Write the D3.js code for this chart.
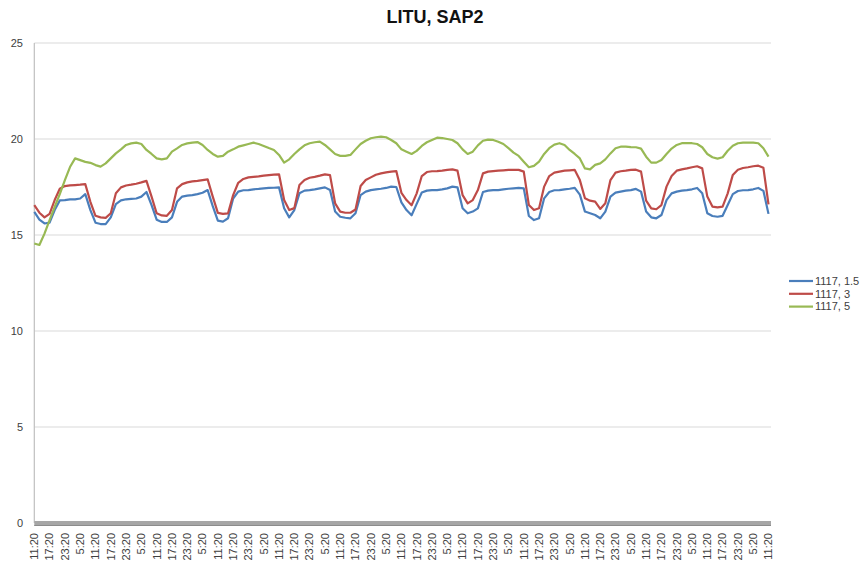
<!DOCTYPE html>
<html>
<head>
<meta charset="utf-8">
<script src="https://cdn.jsdelivr.net/npm/d3@7/dist/d3.min.js"></script>
<style>
  html, body { margin: 0; padding: 0; background: #fff; }
  svg { display: block; font-family: "Liberation Sans", Arial, sans-serif; }
</style>
</head>
<body>
<svg id="chart" width="862" height="566"></svg>
<script>
// ---- data (2-hour readings, starting 11:20) ----
const seriesNames = ["1117, 1.5", "1117, 3", "1117, 5"];
const seriesColors = ["#4a7ebb", "#be4b48", "#98b954"];

const s15 = [16.2,15.8,15.6,15.64,16.3,16.8,16.82,16.86,16.86,16.9,17.13,16.3,
  15.64,15.57,15.57,15.92,16.61,16.8,16.86,16.88,16.9,17.0,17.24,16.56,
  15.8,15.68,15.68,15.92,16.73,17.0,17.05,17.08,17.13,17.2,17.34,16.5,
  15.75,15.7,15.87,16.9,17.26,17.33,17.34,17.38,17.4,17.43,17.45,17.46,
  17.48,16.39,15.92,16.3,17.17,17.31,17.34,17.38,17.43,17.48,17.34,16.22,
  15.95,15.9,15.87,16.13,17.08,17.26,17.34,17.38,17.41,17.45,17.52,17.5,
  16.7,16.3,16.03,16.62,17.21,17.31,17.34,17.34,17.38,17.43,17.52,17.48,
  16.39,16.13,16.22,16.39,17.24,17.31,17.34,17.34,17.38,17.41,17.43,17.45,
  17.43,15.99,15.78,15.87,16.91,17.24,17.33,17.34,17.38,17.41,17.45,17.1,
  16.22,16.13,16.04,15.87,16.22,17.0,17.21,17.26,17.31,17.34,17.4,17.26,
  16.22,15.92,15.87,16.04,16.82,17.17,17.26,17.31,17.34,17.38,17.45,17.17,
  16.13,15.99,15.95,16.0,16.56,17.13,17.29,17.33,17.34,17.38,17.45,17.3,
  16.1];

const s3 = [16.56,16.16,15.92,16.1,16.82,17.41,17.55,17.58,17.6,17.62,17.65,16.73,
  16.0,15.92,15.89,16.13,17.17,17.48,17.58,17.62,17.67,17.74,17.82,17.0,
  16.13,16.02,16.0,16.3,17.43,17.65,17.74,17.79,17.82,17.86,17.9,17.0,
  16.15,16.1,16.13,17.08,17.72,17.92,18.0,18.03,18.05,18.09,18.12,18.14,
  18.16,16.82,16.3,16.4,17.6,17.86,17.98,18.03,18.09,18.16,18.12,16.65,
  16.22,16.16,16.16,16.33,17.55,17.86,18.0,18.14,18.21,18.26,18.3,18.33,
  17.2,16.82,16.55,17.17,18.07,18.28,18.32,18.33,18.35,18.39,18.42,18.35,
  17.08,16.65,16.82,17.34,18.21,18.3,18.33,18.35,18.37,18.39,18.39,18.39,
  18.3,16.56,16.3,16.39,17.52,18.07,18.25,18.3,18.35,18.37,18.39,17.86,
  16.91,16.79,16.74,16.36,16.65,17.86,18.25,18.32,18.35,18.39,18.4,18.3,
  16.79,16.39,16.34,16.56,17.52,18.07,18.35,18.42,18.47,18.53,18.58,18.47,
  17.0,16.48,16.44,16.48,17.17,18.13,18.4,18.49,18.53,18.58,18.61,18.5,
  16.6];

const s5 = [14.56,14.48,15.07,15.78,16.46,17.13,17.86,18.54,18.99,18.9,18.81,18.76,
  18.64,18.56,18.73,18.99,19.25,19.46,19.69,19.77,19.81,19.74,19.43,19.22,
  18.99,18.94,18.99,19.34,19.51,19.69,19.77,19.81,19.84,19.69,19.43,19.22,
  19.08,19.12,19.34,19.46,19.6,19.67,19.74,19.81,19.74,19.64,19.53,19.43,
  19.17,18.77,18.94,19.22,19.46,19.67,19.78,19.83,19.86,19.69,19.46,19.22,
  19.12,19.12,19.17,19.46,19.74,19.91,20.04,20.09,20.12,20.09,19.95,19.78,
  19.46,19.34,19.22,19.38,19.64,19.83,19.95,20.07,20.05,20.0,19.95,19.78,
  19.46,19.22,19.34,19.67,19.91,19.97,19.95,19.86,19.74,19.52,19.29,19.12,
  18.82,18.53,18.6,18.82,19.22,19.52,19.71,19.78,19.69,19.43,19.22,18.99,
  18.47,18.42,18.65,18.73,18.94,19.25,19.52,19.6,19.6,19.58,19.57,19.5,
  19.08,18.77,18.77,18.91,19.22,19.5,19.69,19.78,19.78,19.78,19.74,19.57,
  19.22,19.05,18.98,19.05,19.39,19.65,19.78,19.81,19.81,19.81,19.78,19.52,
  19.08];

// one tick label every 3rd reading (6 hours)
const tickLabels = [
  "11:20","17:20","23:20","5:20","11:20","17:20","23:20","5:20",
  "11:20","17:20","23:20","5:20","11:20","17:20","23:20","5:20",
  "11:20","17:20","23:20","5:20","11:20","17:20","23:20","5:20",
  "11:20","17:20","23:20","5:20","11:20","17:20","23:20","5:20",
  "11:20","17:20","23:20","5:20","11:20","17:20","23:20","5:20",
  "11:20","17:20","23:20","5:20","11:20","17:20","23:20","5:20",
  "11:20"];
const tickEvery = 3;
const yTicks = [0, 5, 10, 15, 20, 25];
const title = "LITU, SAP2";

// ---- drawing ----
const svg = d3.select("#chart");
const plot = { left: 34.3, right: 771, top: 43, bottom: 523 };

const x = d3.scaleLinear().domain([0, s15.length - 1]).range([plot.left, 768.5]);
const y = d3.scaleLinear().domain([0, 25]).range([plot.bottom, plot.top]);

// title
svg.append("text")
  .attr("x", 435).attr("y", 23)
  .attr("text-anchor", "middle")
  .attr("font-size", 18).attr("font-weight", "bold")
  .attr("fill", "#111")
  .text(title);

// gridlines
svg.append("g").selectAll("line")
  .data(yTicks.filter(d => d > 0))
  .join("line")
  .attr("x1", plot.left).attr("x2", plot.right)
  .attr("y1", d => y(d)).attr("y2", d => y(d))
  .attr("stroke", "#d9d9d9").attr("stroke-width", 1.2);

// y axis line
svg.append("line")
  .attr("x1", plot.left).attr("x2", plot.left)
  .attr("y1", plot.top).attr("y2", plot.bottom)
  .attr("stroke", "#bfbfbf").attr("stroke-width", 1.2);

// y labels
svg.append("g").selectAll("text")
  .data(yTicks)
  .join("text")
  .attr("x", 23).attr("y", d => y(d))
  .attr("dy", "0.35em")
  .attr("text-anchor", "end")
  .attr("font-size", 11).attr("fill", "#404040")
  .text(d => d);

// bottom axis band
svg.append("rect")
  .attr("x", plot.left).attr("y", plot.bottom - 2)
  .attr("width", plot.right - plot.left).attr("height", 5)
  .attr("fill", "#a6a6a6");
svg.append("line")
  .attr("x1", plot.left).attr("x2", plot.right)
  .attr("y1", plot.bottom + 2.5).attr("y2", plot.bottom + 2.5)
  .attr("stroke", "#8c8c8c").attr("stroke-width", 1);

// x labels
svg.append("g").selectAll("text")
  .data(tickLabels)
  .join("text")
  .attr("transform", (d, i) => `translate(${x(i * tickEvery)},533) rotate(-90)`)
  .attr("dy", "0.35em")
  .attr("text-anchor", "end")
  .attr("font-size", 11).attr("fill", "#404040")
  .text(d => d);

// lines
const line = d3.line().x((d, i) => x(i)).y(d => y(d));
[s15, s3, s5].forEach((s, k) => {
  svg.append("path")
    .datum(s)
    .attr("d", line)
    .attr("fill", "none")
    .attr("stroke", seriesColors[k])
    .attr("stroke-width", 2.2)
    .attr("stroke-linejoin", "round");
});

// legend
const lg = svg.append("g");
seriesNames.forEach((n, k) => {
  const ly = 281 + k * 12.8;
  lg.append("line")
    .attr("x1", 789).attr("x2", 813)
    .attr("y1", ly).attr("y2", ly)
    .attr("stroke", seriesColors[k]).attr("stroke-width", 2.2);
  lg.append("text")
    .attr("x", 815).attr("y", ly).attr("dy", "0.35em")
    .attr("font-size", 11).attr("fill", "#404040")
    .text(n);
});
</script>
</body>
</html>
